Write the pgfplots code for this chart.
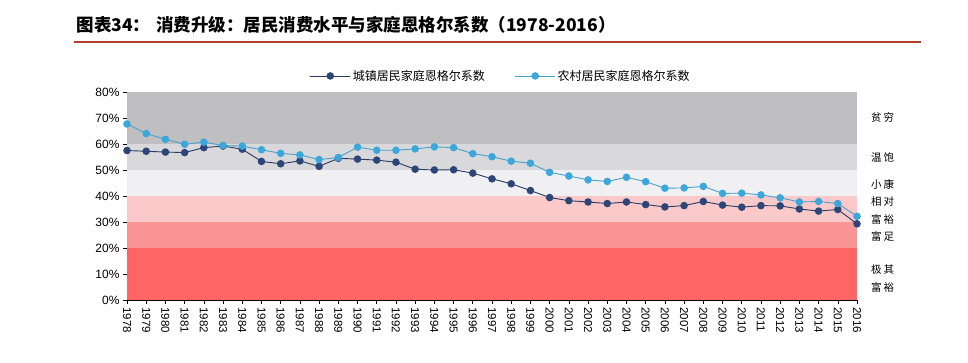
\documentclass[border=0pt]{standalone}
\usepackage{pgfplots}
\pgfplotsset{compat=1.18}
\usepackage{fontspec}
\setmainfont{Liberation Sans}
\newfontfamily\cjk{Noto Sans CJK SC}
\definecolor{bandA}{HTML}{BFBEC0}
\definecolor{bandB}{HTML}{D9D8DA}
\definecolor{bandC}{HTML}{F0F0F2}
\definecolor{bandD}{HTML}{FBC9C9}
\definecolor{bandE}{HTML}{F99595}
\definecolor{bandF}{HTML}{FF6565}
\definecolor{urban}{HTML}{2E4677}
\definecolor{rural}{HTML}{3BA7DB}
\definecolor{titlered}{HTML}{B0402C}
\begin{document}
\begin{tikzpicture}[x=1pt,y=1pt]
\useasboundingbox (0,0) rectangle (968,363);
\node[anchor=west,font=\cjk\bfseries\fontsize{17.5}{19}\selectfont] at (73,338) {图表34：\hspace{6pt}消费升级：居民消费水平与家庭恩格尔系数（1978-2016）};
\draw[titlered,line width=2pt] (74,321) -- (921,321);
\begin{axis}[
  at={(127pt,63pt)}, anchor=south west,
  scale only axis, width=730pt, height=208pt,
  xmin=0, xmax=38, ymin=0, ymax=80,
  axis lines*=left,
  axis line style={black, line width=0.8pt},
  tick align=outside, major tick length=4pt,
  tick style={black, line width=0.6pt},
  xtick={0,...,38},
  xticklabels={1978,1979,1980,1981,1982,1983,1984,1985,1986,1987,1988,1989,1990,1991,1992,1993,1994,1995,1996,1997,1998,1999,2000,2001,2002,2003,2004,2005,2006,2007,2008,2009,2010,2011,2012,2013,2014,2015,2016},
  x tick label style={rotate=-90, anchor=west, font=\fontsize{11.5}{12}\selectfont},
  ytick={0,10,...,80},
  yticklabel={\pgfmathprintnumber{\tick}\%},
  y tick label style={font=\fontsize{12}{13}\selectfont},
  /pgf/number format/assume math mode=true,
  clip=false,
  legend columns=2,
  legend style={draw=none, fill=none, at={(0.512,1.0)}, anchor=south, yshift=6pt,
    font=\cjk\fontsize{12}{13}\selectfont, /tikz/every even column/.append style={column sep=28pt}},
  legend image code/.code={\draw[#1] (0pt,0pt) -- (40pt,0pt); \draw[#1, mark repeat=1] plot coordinates {(20pt,0pt)};},
]
\addplot[fill=bandA, draw=none, forget plot] coordinates {(0,60) (38,60) (38,80) (0,80)} -- cycle;
\addplot[fill=bandB, draw=none, forget plot] coordinates {(0,50) (38,50) (38,60) (0,60)} -- cycle;
\addplot[fill=bandC, draw=none, forget plot] coordinates {(0,40) (38,40) (38,50) (0,50)} -- cycle;
\addplot[fill=bandD, draw=none, forget plot] coordinates {(0,30) (38,30) (38,40) (0,40)} -- cycle;
\addplot[fill=bandE, draw=none, forget plot] coordinates {(0,20) (38,20) (38,30) (0,30)} -- cycle;
\addplot[fill=bandF, draw=none, forget plot] coordinates {(0,0) (38,0) (38,20) (0,20)} -- cycle;
\addplot[color=urban!85!black, line width=0.9pt, mark=*, mark size=3.3pt, mark options={fill=urban, draw=urban}] coordinates {
(0,57.5)(1,57.2)(2,56.9)(3,56.7)(4,58.6)(5,59.2)(6,58.0)(7,53.3)(8,52.4)(9,53.5)(10,51.4)(11,54.5)(12,54.2)(13,53.8)(14,53.0)(15,50.3)(16,50.0)(17,50.1)(18,48.8)(19,46.6)(20,44.7)(21,42.1)(22,39.4)(23,38.2)(24,37.7)(25,37.1)(26,37.7)(27,36.7)(28,35.8)(29,36.3)(30,37.9)(31,36.5)(32,35.7)(33,36.3)(34,36.2)(35,35.0)(36,34.2)(37,34.8)(38,29.3)};
\addlegendentry{城镇居民家庭恩格尔系数}
\addplot[color=rural!85!gray, line width=0.9pt, mark=*, mark size=3.3pt, mark options={fill=rural, draw=rural}] coordinates {
(0,67.7)(1,64.0)(2,61.8)(3,59.9)(4,60.7)(5,59.4)(6,59.2)(7,57.8)(8,56.4)(9,55.8)(10,54.0)(11,54.8)(12,58.8)(13,57.6)(14,57.6)(15,58.1)(16,58.9)(17,58.6)(18,56.3)(19,55.1)(20,53.4)(21,52.6)(22,49.1)(23,47.7)(24,46.2)(25,45.6)(26,47.2)(27,45.5)(28,43.0)(29,43.1)(30,43.7)(31,41.0)(32,41.1)(33,40.4)(34,39.3)(35,37.7)(36,37.9)(37,37.1)(38,32.2)};
\addlegendentry{农村居民家庭恩格尔系数}
\end{axis}
\begin{scope}[every node/.style={anchor=west, font=\cjk\fontsize{10.5}{11}\selectfont, inner sep=0pt}]
\node at (871,363-118) {贫\hspace{2pt}穷};
\node at (871,363-157) {温\hspace{2pt}饱};
\node at (871,363-184) {小\hspace{2pt}康};
\node at (871,363-202) {相\hspace{2pt}对};
\node at (871,363-219) {富\hspace{2pt}裕};
\node at (871,363-236) {富\hspace{2pt}足};
\node at (871,363-270) {极\hspace{2pt}其};
\node at (871,363-287) {富\hspace{2pt}裕};
\end{scope}
\end{tikzpicture}
\end{document}
